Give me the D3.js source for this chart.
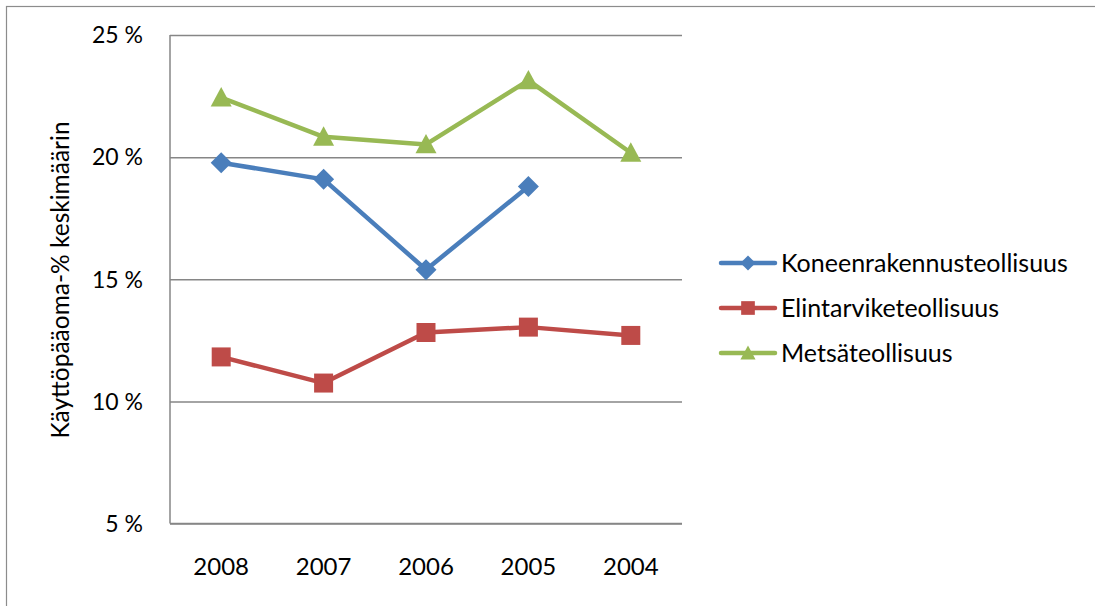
<!DOCTYPE html>
<html>
<head>
<meta charset="utf-8">
<script src="https://cdn.jsdelivr.net/npm/d3@7/dist/d3.min.js"></script>
<style>
  html, body { margin: 0; padding: 0; background: #fff; }
  svg { display: block; }
  text { font-family: Lato, "Open Sans", sans-serif; fill: #000; }
</style>
</head>
<body>
<svg id="chart" width="1095" height="606"></svg>
<script>
// Years on the category axis (newest first)
const years = ["2008", "2007", "2006", "2005", "2004"];

// Average working capital % per industry
const koneenrakennus = [19.77, 19.09, 15.39, 18.80, null];
const elintarvike    = [11.82, 10.75, 12.82, 13.04, 12.70];
const metsa          = [22.44, 20.83, 20.52, 23.14, 20.18];

const seriesNames = ["Koneenrakennusteollisuus", "Elintarviketeollisuus", "Metsäteollisuus"];
const yTicks = [5, 10, 15, 20, 25];
const yTitle = "Käyttöpääoma-% keskimäärin";

const series = [
  { name: seriesNames[0], values: koneenrakennus, color: "#4a7ebb", marker: "diamond" },
  { name: seriesNames[1], values: elintarvike,    color: "#be4b48", marker: "square" },
  { name: seriesNames[2], values: metsa,          color: "#98b954", marker: "triangle" }
];

const svg = d3.select("#chart");

// outer chart frame
svg.append("rect")
  .attr("x", 6.5).attr("y", 6.5)
  .attr("width", 1200).attr("height", 700)
  .attr("fill", "none").attr("stroke", "#8c8c8c").attr("stroke-width", 1.2);

const plot = { left: 170, right: 682, top: 35, bottom: 523.5 };

const x = d3.scaleBand().domain(years).range([plot.left, plot.right]);
const y = d3.scaleLinear().domain([5, 25]).range([plot.bottom, plot.top]);

// horizontal gridlines + left axis via d3.axisLeft
const yAxis = svg.append("g")
  .attr("transform", `translate(${plot.left},0)`)
  .call(d3.axisLeft(y).tickValues(yTicks)
    .tickSize(-(plot.right - plot.left))
    .tickPadding(27)
    .tickFormat(d => d + " %"));
yAxis.select(".domain").remove();
yAxis.selectAll(".tick line")
  .attr("stroke", "#868686").attr("stroke-width", 1.5);
yAxis.selectAll(".tick text")
  .attr("font-size", 23).attr("dy", "0.34em")
  .style("font-family", "Lato, sans-serif");

// vertical axis line
svg.append("line")
  .attr("x1", plot.left).attr("x2", plot.left)
  .attr("y1", plot.top).attr("y2", plot.bottom)
  .attr("stroke", "#868686").attr("stroke-width", 1.5);

// category axis labels
const xAxis = svg.append("g")
  .attr("transform", `translate(0,${plot.bottom})`)
  .call(d3.axisBottom(x).tickSize(0).tickPadding(34));
xAxis.select(".domain")
  .attr("stroke", "#868686").attr("stroke-width", 1.5)
  .attr("d", `M${plot.left},0H${plot.right}`);
xAxis.selectAll(".tick text")
  .attr("font-size", 24)
  .style("font-family", "Lato, sans-serif");

// y axis title
svg.append("text")
  .attr("transform", `translate(60,280) rotate(-90)`)
  .attr("text-anchor", "middle")
  .attr("dy", "0.35em")
  .attr("font-size", 24.5)
  .text(yTitle);

// marker shapes, r = half-size in px
const markerPath = {
  diamond:  r => `M0,${-r}L${r},0L0,${r}L${-r},0Z`,
  square:   r => `M${-r},${-r}H${r}V${r}H${-r}Z`,
  triangle: r => `M0,${-r}L${r},${r * 0.85}L${-r},${r * 0.85}Z`
};
const markerR = { diamond: 10.5, square: 9.5, triangle: 10.5 };

const line = d3.line()
  .defined(d => d != null)
  .x((d, i) => x(years[i]) + x.bandwidth() / 2)
  .y(d => y(d));

series.forEach(s => {
  svg.append("path")
    .attr("d", line(s.values))
    .attr("fill", "none")
    .attr("stroke", s.color)
    .attr("stroke-width", 4.5)
    .attr("stroke-linejoin", "round")
    .attr("stroke-linecap", "round");

  svg.append("g").selectAll("path")
    .data(s.values.map((v, i) => ({ v, i })).filter(d => d.v != null))
    .join("path")
    .attr("transform", d => `translate(${x(years[d.i]) + x.bandwidth() / 2},${y(d.v)})`)
    .attr("d", markerPath[s.marker](markerR[s.marker]))
    .attr("fill", s.color);
});

// legend
const legend = svg.append("g");
series.forEach((s, k) => {
  const ly = 263 + k * 45;
  legend.append("line")
    .attr("x1", 721).attr("x2", 775)
    .attr("y1", ly).attr("y2", ly)
    .attr("stroke", s.color).attr("stroke-width", 4.5)
    .attr("stroke-linecap", "round");
  legend.append("path")
    .attr("transform", `translate(748,${ly})`)
    .attr("d", markerPath[s.marker](markerR[s.marker] * 0.72))
    .attr("fill", s.color);
  legend.append("text")
    .attr("x", 781).attr("y", ly)
    .attr("dy", "0.36em")
    .attr("font-size", 25)
    .text(s.name);
});
</script>
</body>
</html>
